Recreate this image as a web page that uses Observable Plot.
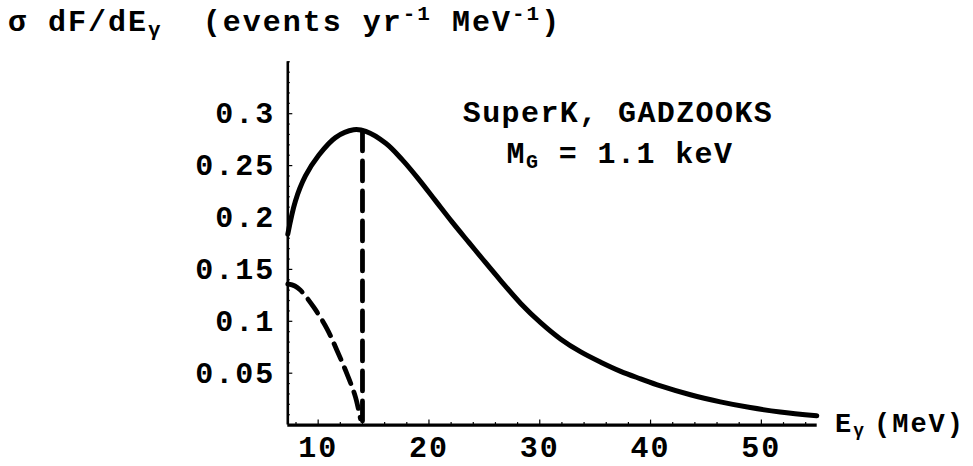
<!DOCTYPE html>
<html><head><meta charset="utf-8">
<script src="https://cdn.jsdelivr.net/npm/d3@7"></script>
<script src="https://cdn.jsdelivr.net/npm/@observablehq/plot@0.6"></script>
<style>
body{margin:0;background:#fff;}
#chart svg{display:block;}
</style></head><body><div id="chart"></div>
<script>
// Solid curve: total spectrum sigma dF/dE (events / yr / MeV)
const solidE = [7.26, 7.95, 8.85, 10.05, 11.56, 13.2, 14.3, 16.1, 17.6, 19.1, 20.6, 22.1, 23.6, 24.8, 26.45, 28.3, 30.1, 31.9, 33.7, 35.5, 37.3, 39.1, 40.9, 43.6, 46.3, 49.0, 51.7, 55.0];
const solidF = [0.184, 0.216, 0.240, 0.260, 0.277, 0.2845, 0.283, 0.2715, 0.2555, 0.2365, 0.2160, 0.1955, 0.1760, 0.1605, 0.1395, 0.1170, 0.0985, 0.0828, 0.0705, 0.0606, 0.0518, 0.0446, 0.0378, 0.0292, 0.0224, 0.0169, 0.0126, 0.0090];
// Dashed curve
const dashedE = [7.26, 7.9, 8.4, 9.6, 10.8, 11.7, 12.6, 13.37, 13.82];
const dashedF = [0.136, 0.134, 0.130, 0.1136, 0.0928, 0.0719, 0.0494, 0.027, 0.006];
// Dashed vertical cut-off
const cutoffE = [14, 14];
const cutoffF = [0.004, 0.284];
// Axes
const xDomain = [7.26, 55.04];
const yDomain = [0, 0.35];
const xMajorTicks = [10, 20, 30, 40, 50];
const xMajorLabels = ["10", "20", "30", "40", "50"];
const xMinorTicks = [8, 12, 14, 16, 18, 22, 24, 26, 28, 32, 34, 36, 38, 42, 44, 46, 48, 52, 54];
const yMajorTicks = [0.05, 0.1, 0.15, 0.2, 0.25, 0.3];
const yMajorLabels = ["0.05", "0.1", "0.15", "0.2", "0.25", "0.3"];
const yMinorTicks = [0.01, 0.02, 0.03, 0.04, 0.06, 0.07, 0.08, 0.09, 0.11, 0.12, 0.13, 0.14, 0.16, 0.17, 0.18, 0.19, 0.21, 0.22, 0.23, 0.24, 0.26, 0.27, 0.28, 0.29, 0.31, 0.32, 0.33, 0.34, 0.35];
// Texts
const annotationLine1 = "SuperK, GADZOOKS";
const annotationLine2 = ["M", "G", " = 1.1 keV"];
const xAxisLabel = ["E", "γ", "(MeV)"];
const titleParts = [["σ dF/dE", "base"], ["γ", "sub"], ["  (events yr", "base"], ["-1", "sup"], [" MeV", "base"], ["-1", "sup"], [")", "base"]];

const FONT = "'Liberation Mono', 'Courier New', monospace";
const solid = solidE.map((e, i) => ({e, f: solidF[i]}));
const dashed = dashedE.map((e, i) => ({e, f: dashedF[i]}));
const cutoff = cutoffE.map((e, i) => ({e, f: cutoffF[i]}));

const plot = Plot.plot({
  width: 973, height: 466,
  marginLeft: 287.3, marginRight: 156.3, marginTop: 61.3, marginBottom: 41.4,
  x: {domain: xDomain, label: null},
  y: {domain: yDomain, label: null},
  style: {fontFamily: FONT, fontWeight: "bold", fontSize: "30px", color: "black", background: "white", letterSpacing: "2px"},
  marks: [
    Plot.axisX(xMinorTicks, {tickSize: -2.5, tickFormat: () => "", label: null, strokeWidth: 1.2}),
    Plot.axisX(xMajorTicks, {tickSize: -5, tickPadding: 15.4, tickFormat: d => xMajorLabels[xMajorTicks.indexOf(d)], label: null, strokeWidth: 1.2}),
    Plot.axisY(yMinorTicks, {tickSize: -2.5, tickFormat: () => "", label: null, strokeWidth: 1.2}),
    Plot.axisY(yMajorTicks, {tickSize: -5, tickPadding: 17.5, tickFormat: d => yMajorLabels[yMajorTicks.indexOf(d)], label: null, strokeWidth: 1.2}),
    Plot.ruleX([xDomain[0]], {strokeWidth: 2.6}),
    Plot.ruleY([0], {strokeWidth: 3.2}),
    Plot.line(solid, {x: "e", y: "f", curve: "catmull-rom", strokeWidth: 5}),
    Plot.line(dashed, {x: "e", y: "f", curve: "catmull-rom", strokeWidth: 4.8, strokeDasharray: "17,9"}),
    Plot.line(cutoff, {x: "e", y: "f", strokeWidth: 4.8, strokeDasharray: "20,10"})
  ]
});
document.getElementById("chart").appendChild(plot);

const svg = d3.select(plot);
const textStyle = s => s.attr("font-family", FONT).attr("font-weight", "bold").attr("fill", "black").style("white-space", "pre");

// Title
const title = svg.append("text").attr("x", 8).attr("y", 31).attr("font-size", 30).attr("text-anchor", "start").call(textStyle).style("letter-spacing", "2px");
let prev = "base";
const shift = {base: 0, sub: 5, sup: -11};
titleParts.forEach(([t, kind]) => {
  const ts = title.append("tspan").text(t);
  ts.attr("dy", shift[kind] - shift[prev]);
  if (kind !== "base") ts.attr("font-size", 21);
  prev = kind;
});

// Annotation
svg.append("text").attr("x", 618).attr("y", 121.7).attr("font-size", 30).attr("text-anchor", "middle").call(textStyle).style("letter-spacing", "1.4px").text(annotationLine1);
const a2 = svg.append("text").attr("x", 620).attr("y", 162.7).attr("font-size", 30).attr("text-anchor", "middle").call(textStyle).style("letter-spacing", "1.4px");
a2.append("tspan").text(annotationLine2[0]);
a2.append("tspan").text(annotationLine2[1]).attr("font-size", 20).attr("dy", 5);
a2.append("tspan").text(annotationLine2[2]).attr("dy", -5);

// X axis label
const xl = svg.append("text").attr("x", 835).attr("y", 431.7).attr("font-size", 27).attr("text-anchor", "start").call(textStyle).style("letter-spacing", "2px");
xl.append("tspan").text(xAxisLabel[0]);
xl.append("tspan").text(xAxisLabel[1]).attr("font-size", 18).attr("dy", 4);
xl.append("tspan").text(xAxisLabel[2]).attr("dy", -4).attr("dx", 8);
</script></body></html>
